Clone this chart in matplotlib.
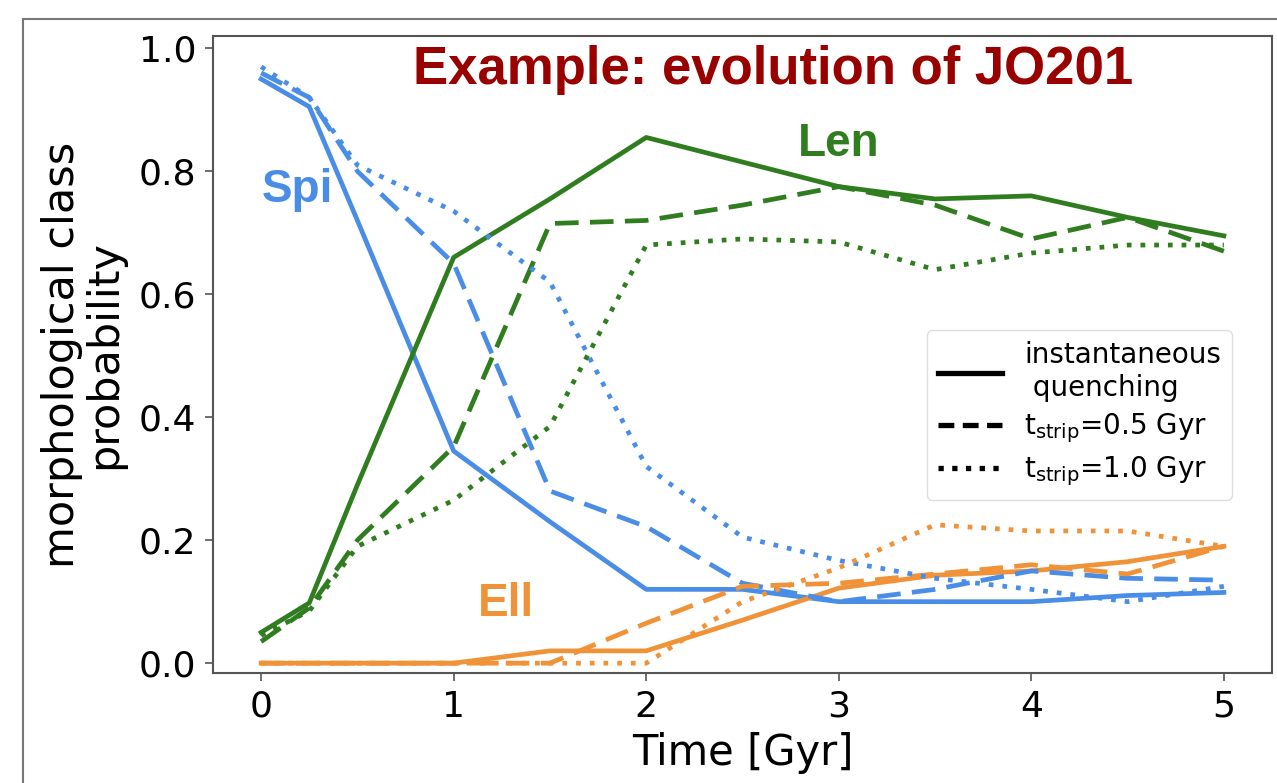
import matplotlib
matplotlib.use('Agg')
import matplotlib.pyplot as plt
from matplotlib.lines import Line2D

# time grid (Gyr)
t = [0, 0.25, 0.5, 1, 1.5, 2, 2.5, 3, 3.5, 4, 4.5, 5]

# Spiral probability
spi_inst = [0.95, 0.905, 0.72, 0.345, 0.23, 0.12, 0.12, 0.10, 0.10, 0.10, 0.11, 0.115]
spi_05 = [0.96, 0.92, 0.80, 0.65, 0.28, 0.222, 0.13, 0.10, 0.12, 0.15, 0.138, 0.135]
spi_10 = [0.97, 0.92, 0.81, 0.735, 0.62, 0.32, 0.205, 0.167, 0.138, 0.12, 0.10, 0.125]

# Lenticular probability
len_inst = [0.05, 0.098, 0.29, 0.66, 0.755, 0.855, 0.815, 0.775, 0.755, 0.76, 0.725, 0.695]
len_05 = [0.035, 0.09, 0.2, 0.352, 0.715, 0.72, 0.745, 0.775, 0.745, 0.69, 0.725, 0.67]
len_10 = [0.045, 0.085, 0.19, 0.265, 0.385, 0.68, 0.69, 0.685, 0.64, 0.667, 0.68, 0.68]

# Elliptical probability
ell_inst = [0.0, 0.0, 0.0, 0.0, 0.02, 0.02, 0.07, 0.122, 0.143, 0.15, 0.165, 0.19]
ell_05 = [0.0, 0.0, 0.0, 0.0, 0.0, 0.065, 0.125, 0.13, 0.145, 0.16, 0.145, 0.19]
ell_10 = [0.0, 0.0, 0.0, 0.0, 0.0, 0.0, 0.10, 0.155, 0.225, 0.215, 0.215, 0.19]

legend_labels = ['instantaneous\n quenching', r'$\mathregular{t_{strip}}$=0.5 Gyr',
                 r'$\mathregular{t_{strip}}$=1.0 Gyr']

blue = '#4a8de6'
green = '#2f7d1f'
orange = '#f09238'

dashed = (0, (5, 2.4))
dotted = (0, (1, 1.9))

fig = plt.figure(figsize=(12.77, 7.83), dpi=100)
ax = fig.add_axes([213/1277, 1 - 673/783, (1272-213)/1277, (673-36)/783])

lw = 3.4
for ys, c in [(spi_inst, blue), (len_inst, green), (ell_inst, orange)]:
    ax.plot(t, ys, color=c, lw=lw, ls='-')
for ys, c in [(spi_05, blue), (len_05, green), (ell_05, orange)]:
    ax.plot(t, ys, color=c, lw=lw, ls=dashed)
for ys, c in [(spi_10, blue), (len_10, green), (ell_10, orange)]:
    ax.plot(t, ys, color=c, lw=lw, ls=dotted)

ax.set_xlim(-0.25, 5.25)
ax.set_ylim(-0.016, 1.02)
ax.set_xticks([0, 1, 2, 3, 4, 5])
ax.set_yticks([0.0, 0.2, 0.4, 0.6, 0.8, 1.0])
ax.set_yticklabels(['0.0', '0.2', '0.4', '0.6', '0.8', '1.0'])
ax.tick_params(labelsize=26, length=6, width=1.2, color='#555555', pad=6)
for s in ax.spines.values():
    s.set_color('#555555')
    s.set_linewidth(1.5)

ax.set_xlabel('Time [Gyr]', fontsize=30, labelpad=6)
ax.set_ylabel('morphological class\nprobability', fontsize=31, labelpad=10, linespacing=1.0)

bold = dict(fontfamily='Liberation Sans', fontweight='bold')
ax.text(0.19, 0.77, 'Spi', color=blue, fontsize=33, ha='center', va='center', **bold)
ax.text(3.0, 0.845, 'Len', color=green, fontsize=33, ha='center', va='center', **bold)
ax.text(1.27, 0.096, 'Ell', color=orange, fontsize=33, ha='center', va='center', **bold)
ax.text(2.66, 0.965, 'Example: evolution of JO201', color='#990000', fontsize=38,
        ha='center', va='center', **bold)

handles = [Line2D([], [], color='k', lw=3.8, ls='-'),
           Line2D([], [], color='k', lw=3.8, ls=(0, (3, 1.6))),
           Line2D([], [], color='k', lw=3.8, ls=(0, (1, 1.6)))]
leg = ax.legend(handles, legend_labels, loc='upper left', bbox_to_anchor=(0.674, 0.538),
                borderaxespad=0, fontsize=20, handlelength=2.3, labelspacing=0.35,
                fancybox=True, framealpha=1)
leg.get_frame().set_edgecolor('#dddddd')

# screenshot frame around the figure
fig.add_artist(Line2D([23/1277, 23/1277], [0, 1 - 19/783], color='#777777', lw=1.5,
                      transform=fig.transFigure))
fig.add_artist(Line2D([23/1277, 1], [1 - 19/783, 1 - 19/783], color='#777777', lw=1.5,
                      transform=fig.transFigure))

fig.savefig('out.png', dpi=100)
